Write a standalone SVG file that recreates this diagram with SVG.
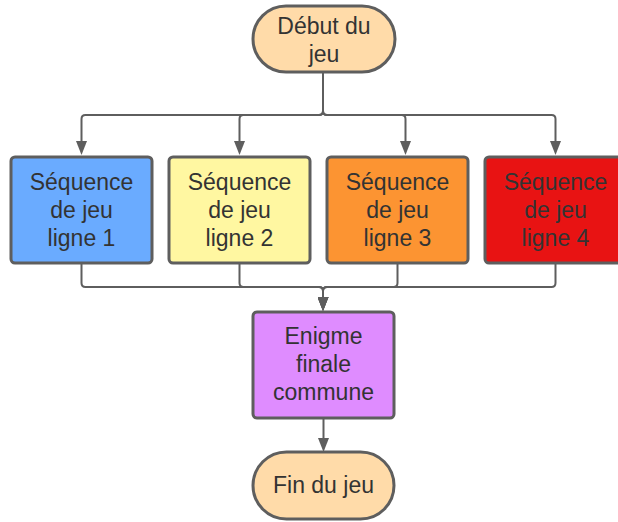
<svg xmlns="http://www.w3.org/2000/svg" width="618" height="522" viewBox="0 0 618 522">
<style>
.n{stroke:#5e5e5e;stroke-width:3}
.t{font-family:"Liberation Sans",Arial,sans-serif;font-size:23px;fill:#333333;text-anchor:middle}
.c{fill:none;stroke:#5e5e5e;stroke-width:2;marker-end:url(#ah)}
</style>
<defs>
<marker id="ah" markerUnits="userSpaceOnUse" markerWidth="14" markerHeight="11" refX="0" refY="5.5" orient="auto">
<path d="M0,0 L14,5.5 L0,11 z" fill="#5e5e5e"/>
</marker>
</defs>
<rect width="618" height="522" fill="#ffffff"/>
<g id="connectors">
<path class="c" d="M323,72 V111 Q323,115 319,115 H85.5 Q81.5,115 81.5,119 V141"/>
<path class="c" d="M323,72 V111 Q323,115 319,115 H243.5 Q239.5,115 239.5,119 V141"/>
<path class="c" d="M323,72 V111 Q323,115 327,115 H401.5 Q405.5,115 405.5,119 V141"/>
<path class="c" d="M323,72 V111 Q323,115 327,115 H551.5 Q555.5,115 555.5,119 V141"/>
<path class="c" d="M81.5,263 V283 Q81.5,287 85.5,287 H319 Q323,287 323,291 V297"/>
<path class="c" d="M239.5,263 V283 Q239.5,287 243.5,287 H319 Q323,287 323,291 V297"/>
<path class="c" d="M397.5,263 V283 Q397.5,287 393.5,287 H327 Q323,287 323,291 V297"/>
<path class="c" d="M555.5,263 V283 Q555.5,287 551.5,287 H327 Q323,287 323,291 V297"/>
<path class="c" d="M323.5,418 V438"/>
</g>
<g id="debut">
<rect class="n" x="253" y="6" width="142" height="66" rx="33" fill="#ffdba9"/>
<text class="t" x="324" y="33.5">Début du</text>
<text class="t" x="324" y="62">jeu</text>
</g>
<g id="seq1">
<rect class="n" x="11" y="157" width="141" height="106" rx="4" fill="#6aabff"/>
<text class="t" x="81.5" y="190">Séquence</text>
<text class="t" x="81.5" y="218">de jeu</text>
<text class="t" x="81.5" y="246">ligne 1</text>
</g>
<g id="seq2">
<rect class="n" x="169" y="157" width="141" height="106" rx="4" fill="#fff7a1"/>
<text class="t" x="239.5" y="190">Séquence</text>
<text class="t" x="239.5" y="218">de jeu</text>
<text class="t" x="239.5" y="246">ligne 2</text>
</g>
<g id="seq3">
<rect class="n" x="327" y="157" width="141" height="106" rx="4" fill="#fc9432"/>
<text class="t" x="397.5" y="190">Séquence</text>
<text class="t" x="397.5" y="218">de jeu</text>
<text class="t" x="397.5" y="246">ligne 3</text>
</g>
<g id="seq4">
<rect class="n" x="485" y="157" width="141" height="106" rx="4" fill="#e81313"/>
<text class="t" x="555.5" y="190">Séquence</text>
<text class="t" x="555.5" y="218">de jeu</text>
<text class="t" x="555.5" y="246">ligne 4</text>
</g>
<g id="enigme">
<rect class="n" x="253" y="312" width="141" height="106" rx="4" fill="#df8cff"/>
<text class="t" x="323.5" y="344">Enigme</text>
<text class="t" x="323.5" y="372">finale</text>
<text class="t" x="323.5" y="400">commune</text>
</g>
<g id="fin">
<rect class="n" x="253" y="452" width="141" height="67" rx="33.5" fill="#ffdba9"/>
<text class="t" x="323.5" y="493">Fin du jeu</text>
</g>
</svg>
